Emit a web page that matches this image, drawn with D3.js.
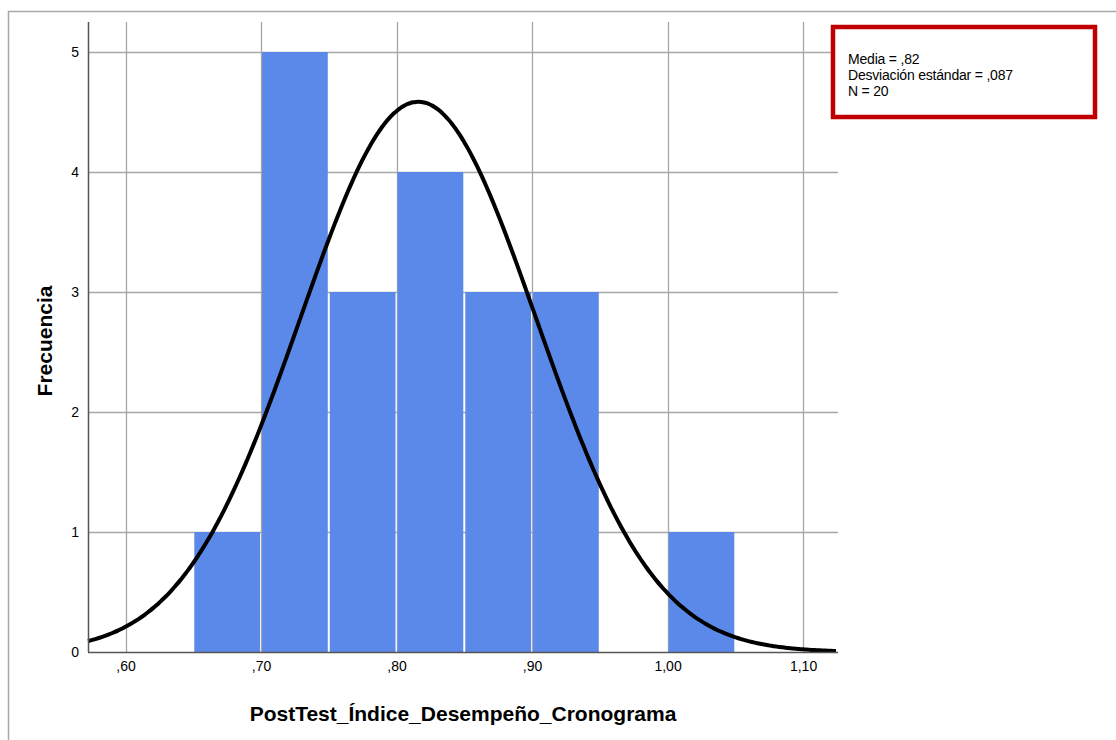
<!DOCTYPE html>
<html>
<head>
<meta charset="utf-8">
<script src="https://cdn.jsdelivr.net/npm/d3@7"></script>
<style>
  body { margin: 0; background: #fff; }
  svg { display: block; font-family: Arial, "Liberation Sans", sans-serif; }
</style>
</head>
<body>
<div id="chart"></div>
<script>
// histogram bins (lower edge, upper edge) and frequencies
const binStarts = [0.65, 0.70, 0.75, 0.80, 0.85, 0.90, 0.95, 1.00];
const binEnds   = [0.70, 0.75, 0.80, 0.85, 0.90, 0.95, 1.00, 1.05];
const counts    = [1, 5, 3, 4, 3, 3, 0, 1];

const xTicks = [0.6, 0.7, 0.8, 0.9, 1.0, 1.1];
const xTickLabels = [",60", ",70", ",80", ",90", "1,00", "1,10"];
const yTicks = [0, 1, 2, 3, 4, 5];

const stats = { mean: 0.816, sd: 0.087, n: 20, binWidth: 0.05 };
const legendLines = ["Media = ,82", "Desviación estándar = ,087", "N = 20"];

const width = 1116, height = 740;
const plot = { left: 88, right: 838, top: 22, bottom: 652 };

const svg = d3.select("#chart")
    .append("svg")
    .attr("width", width)
    .attr("height", height);

// outer frame
svg.append("path")
    .attr("d", `M8.5,${height} V11.5 H${width}`)
    .attr("fill", "none")
    .attr("stroke", "#a8a8a8")
    .attr("stroke-width", 1.5);

const x = d3.scaleLinear()
    .domain([0.5723, 1.1258])
    .range([plot.left, plot.right]);

const y = d3.scaleLinear()
    .domain([0, 5])
    .range([plot.bottom, 52]);

// grid
svg.append("g")
    .selectAll("line.v")
    .data(xTicks)
    .enter()
    .append("line")
    .attr("x1", d => Math.round(x(d)) + 0.5)
    .attr("x2", d => Math.round(x(d)) + 0.5)
    .attr("y1", plot.top)
    .attr("y2", plot.bottom)
    .attr("stroke", "#a6a6a6")
    .attr("stroke-width", 1.3);

svg.append("g")
    .selectAll("line.h")
    .data(yTicks.slice(1))
    .enter()
    .append("line")
    .attr("x1", plot.left)
    .attr("x2", plot.right)
    .attr("y1", d => Math.round(y(d)) + 0.5)
    .attr("y2", d => Math.round(y(d)) + 0.5)
    .attr("stroke", "#a6a6a6")
    .attr("stroke-width", 1.3);

// bars
const bins = binStarts.map((s, i) => ({ x0: s, x1: binEnds[i], count: counts[i] }))
    .filter(d => d.count > 0);

svg.append("g")
    .selectAll("rect")
    .data(bins)
    .enter()
    .append("rect")
    .attr("x", d => x(d.x0) + 1)
    .attr("y", d => y(d.count))
    .attr("width", d => x(d.x1) - x(d.x0) - 2)
    .attr("height", d => y(0) - y(d.count))
    .attr("fill", "#5b89e9");

// normal curve
const normal = d3.range(x.domain()[0], x.domain()[1] + 0.0005, 0.002).map(v => {
    const z = (v - stats.mean) / stats.sd;
    return [v, stats.n * stats.binWidth / (stats.sd * Math.sqrt(2 * Math.PI)) * Math.exp(-0.5 * z * z)];
});

svg.append("path")
    .datum(normal)
    .attr("d", d3.line().x(d => x(d[0])).y(d => y(d[1])).curve(d3.curveBasis))
    .attr("fill", "none")
    .attr("stroke", "#000")
    .attr("stroke-width", 4);

// axes
const yAxis = svg.append("g")
    .attr("transform", `translate(${plot.left},0)`)
    .call(d3.axisLeft(y).tickValues(yTicks).tickSize(0).tickPadding(9)
        .tickFormat(d3.format("d")));
yAxis.select(".domain").attr("stroke", "#555").attr("stroke-width", 1.5)
    .attr("d", `M0.5,${plot.top}V${plot.bottom}`);
yAxis.selectAll("text").attr("font-size", "14px").attr("fill", "#000")
    .attr("font-family", "Arial, sans-serif");

const xAxis = svg.append("g")
    .attr("transform", `translate(0,${plot.bottom})`)
    .call(d3.axisBottom(x).tickValues(xTicks).tickSize(0).tickPadding(9)
        .tickFormat((d, i) => xTickLabels[i]));
xAxis.select(".domain").attr("stroke", "#555").attr("stroke-width", 1.5)
    .attr("d", `M${plot.left},0.5H${plot.right}`);
xAxis.selectAll("text").attr("font-size", "14px").attr("fill", "#000")
    .attr("font-family", "Arial, sans-serif");

// axis titles
svg.append("text")
    .attr("transform", `translate(52,${(plot.top + plot.bottom) / 2 + 4}) rotate(-90)`)
    .attr("text-anchor", "middle")
    .attr("font-size", "21px")
    .attr("font-weight", "bold")
    .text("Frecuencia");

svg.append("text")
    .attr("x", 463)
    .attr("y", 721)
    .attr("text-anchor", "middle")
    .attr("font-size", "21px")
    .attr("font-weight", "bold")
    .text("PostTest_Índice_Desempeño_Cronograma");

// stats box
svg.append("rect")
    .attr("x", 833)
    .attr("y", 27)
    .attr("width", 262)
    .attr("height", 90)
    .attr("fill", "#fff")
    .attr("stroke", "#c00000")
    .attr("stroke-width", 4.5);

svg.append("g")
    .selectAll("text")
    .data(legendLines)
    .enter()
    .append("text")
    .attr("x", 848)
    .attr("y", (d, i) => 64 + i * 16)
    .attr("font-size", "14px")
    .attr("letter-spacing", "-0.2px")
    .text(d => d);
</script>
</body>
</html>
